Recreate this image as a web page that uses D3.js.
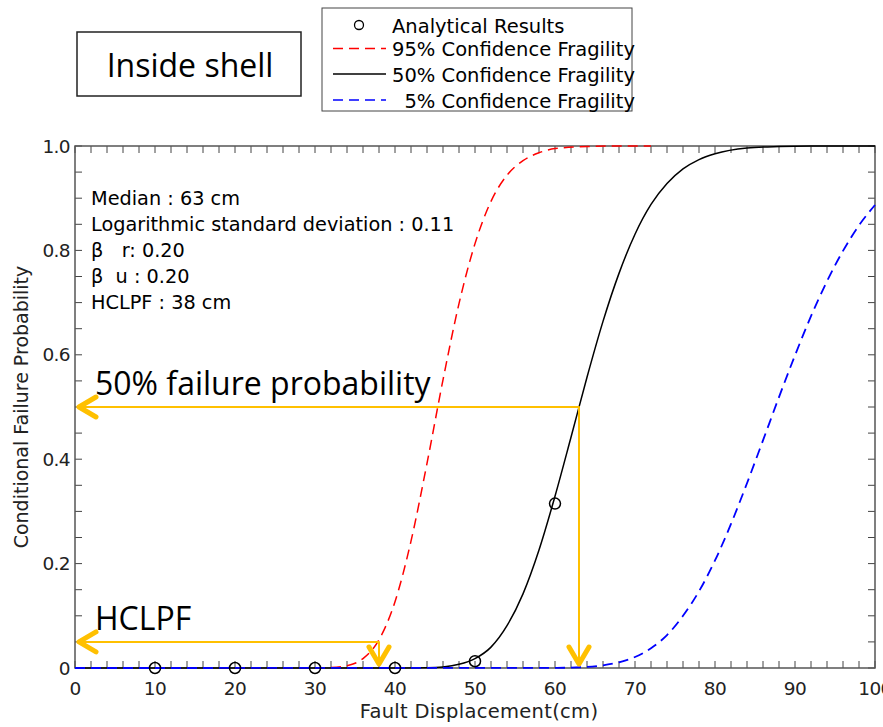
<!DOCTYPE html>
<html>
<head>
<meta charset="utf-8">
<script src="https://cdn.jsdelivr.net/npm/d3@7"></script>
<style>
  body { margin: 0; background: #fff; }
  svg { display: block; }
  text { white-space: pre; }
</style>
</head>
<body>
<div id="vizcontainer"></div>
<script>
const
  width = 883,
  height = 727,
  margin = { left: 75, right: 6, top: 146, bottom: 59 }
  ;

// curves (displacement in cm, probability)
const redX = [0, 30, 32, 34, 36, 38, 40, 42, 44, 46, 48, 50, 52, 54, 56, 58, 60, 64, 68, 72];
const redY = [0, 0.0001, 0.0008, 0.0044, 0.018, 0.054, 0.127, 0.243, 0.392, 0.552, 0.698, 0.813, 0.894, 0.944, 0.972, 0.987, 0.995, 0.999, 1.0, 1.0];

const blackX = [0, 40, 44, 46, 48, 50, 52, 54, 56, 58, 60, 62, 64, 66, 68, 70, 72, 74, 76, 78, 80, 84, 88, 92, 100];
const blackY = [0, 0, 0.0005, 0.002, 0.007, 0.018, 0.040, 0.081, 0.142, 0.226, 0.329, 0.442, 0.557, 0.664, 0.756, 0.831, 0.888, 0.928, 0.956, 0.974, 0.985, 0.996, 0.999, 1.0, 1.0];

const blueX = [0, 60, 64, 66, 68, 70, 72, 74, 76, 78, 80, 82, 84, 86, 88, 90, 92, 94, 96, 98, 100];
const blueY = [0, 0.0003, 0.002, 0.005, 0.011, 0.021, 0.038, 0.063, 0.100, 0.147, 0.206, 0.276, 0.354, 0.436, 0.519, 0.599, 0.674, 0.741, 0.799, 0.848, 0.887];

const pointX = [10, 20, 30, 40, 50, 60];
const pointY = [0, 0, 0, 0, 0.013, 0.315];

const xTicks = [0, 10, 20, 30, 40, 50, 60, 70, 80, 90, 100];
const yTicks = [0, 0.2, 0.4, 0.6, 0.8, 1.0];
const yTickLabels = ['0', '0.2', '0.4', '0.6', '0.8', '1.0'];

const legendLabels = ['Analytical Results', '95% Confidence Fragility', '50% Confidence Fragility', '  5% Confidence Fragility'];
const infoLines = ['Median : 63 cm', 'Logarithmic standard deviation : 0.11', '\u03b2   r: 0.20', '\u03b2  u : 0.20', 'HCLPF : 38 cm'];

// annotation arrows: [displacement, probability, label]
const guideX = [63, 38];
const guideP = [0.5, 0.05];
const guideLabels = ['50% failure probability', 'HCLPF'];

const tickFont = '"DejaVu Sans", sans-serif';
const bigFont = '"Open Sans", Lato, sans-serif';
const yellow = '#ffc000';

let xScale = d3.scaleLinear()
  .domain([0, 100])
  .range([margin.left, width - margin.right - 2]);

let yScale = d3.scaleLinear()
  .domain([0, 1])
  .range([height - margin.bottom, margin.top]);

let viz = d3.select('#vizcontainer')
  .append('svg')
  .attr('width', width)
  .attr('height', height)
  .style('font-family', tickFont);

const x0 = xScale(0), x1 = xScale(100), y0 = yScale(0), y1 = yScale(1);

// inward ticks on all four sides
const minorX = d3.range(0, 101, 2);
const minorY = d3.range(0, 1.001, 0.05);
let ticks = viz.append('g').attr('stroke', '#444').attr('stroke-width', 1);
ticks.selectAll('.tb').data(minorX).join('line')
  .attr('x1', d => xScale(d)).attr('x2', d => xScale(d))
  .attr('y1', y0).attr('y2', y0 - 7);
ticks.selectAll('.tt').data(minorX).join('line')
  .attr('x1', d => xScale(d)).attr('x2', d => xScale(d))
  .attr('y1', y1).attr('y2', y1 + 7);
ticks.selectAll('.tl').data(minorY).join('line')
  .attr('x1', x0).attr('x2', x0 + 7)
  .attr('y1', d => yScale(d)).attr('y2', d => yScale(d));
ticks.selectAll('.tr').data(minorY).join('line')
  .attr('x1', x1).attr('x2', x1 - 7)
  .attr('y1', d => yScale(d)).attr('y2', d => yScale(d));

viz.append('rect')
  .attr('x', x0).attr('y', y1)
  .attr('width', x1 - x0).attr('height', y0 - y1)
  .attr('fill', 'none').attr('stroke', '#555').attr('stroke-width', 1.5);

// tick labels
viz.append('g').selectAll('text').data(xTicks).join('text')
  .attr('x', d => xScale(d)).attr('y', y0 + 27)
  .attr('text-anchor', 'middle')
  .attr('font-size', 18.5).attr('letter-spacing', -0.6).attr('fill', '#222')
  .text(d => d);
viz.append('g').selectAll('text').data(yTicks).join('text')
  .attr('x', x0 - 5).attr('y', d => yScale(d) + 6.5)
  .attr('text-anchor', 'end')
  .attr('font-size', 18.5).attr('letter-spacing', -0.6).attr('fill', '#222')
  .text((d, i) => yTickLabels[i]);

viz.append('text')
  .attr('x', (x0 + x1) / 2 + 4).attr('y', 718)
  .attr('text-anchor', 'middle').attr('font-size', 19.5).attr('letter-spacing', 0.3).attr('fill', '#222')
  .text('Fault Displacement(cm)');
viz.append('text')
  .attr('transform', `translate(28, ${(y0 + y1) / 2}) rotate(-90)`)
  .attr('text-anchor', 'middle').attr('font-size', 19).attr('letter-spacing', 0).attr('fill', '#222')
  .text('Conditional Failure Probability');

// fragility curves
const line = d3.line()
  .x(d => xScale(d[0]))
  .y(d => yScale(d[1]))
  .curve(d3.curveMonotoneX);

viz.append('path').datum(d3.zip(redX, redY))
  .attr('d', line).attr('fill', 'none')
  .attr('stroke', '#ff0000').attr('stroke-width', 1.5).attr('stroke-dasharray', '10,6');
viz.append('path').datum(d3.zip(blackX, blackY))
  .attr('d', line).attr('fill', 'none')
  .attr('stroke', '#000').attr('stroke-width', 1.5);
viz.append('path').datum(d3.zip(blueX, blueY))
  .attr('d', line).attr('fill', 'none')
  .attr('stroke', '#0000ff').attr('stroke-width', 1.8).attr('stroke-dasharray', '10,6');

viz.append('g').selectAll('circle').data(d3.zip(pointX, pointY)).join('circle')
  .attr('cx', d => xScale(d[0])).attr('cy', d => yScale(d[1]))
  .attr('r', 5.5).attr('fill', 'none').attr('stroke', '#000').attr('stroke-width', 1.5);

// info text
viz.append('g').selectAll('text').data(infoLines).join('text')
  .attr('x', 91).attr('y', (d, i) => 205 + i * 26)
  .attr('font-size', 19.3).attr('fill', '#000')
  .text(d => d);

// yellow guide arrows
let guides = viz.append('g')
  .attr('stroke', yellow).attr('fill', 'none')
  .attr('stroke-linecap', 'round').attr('stroke-linejoin', 'round');
guideX.forEach((gx, i) => {
  const px = xScale(gx), py = yScale(guideP[i]);
  guides.append('polyline')
    .attr('points', `${x0 + 2},${py} ${px},${py} ${px},${y0 - 2}`)
    .attr('stroke-width', 2).attr('stroke-linecap', 'butt');
  guides.append('polyline')
    .attr('points', `${x0 + 21},${py - 10} ${x0 + 4},${py} ${x0 + 21},${py + 10}`)
    .attr('stroke-width', 5);
  guides.append('polyline')
    .attr('points', `${px - 10},${y0 - 21} ${px},${y0 - 4} ${px + 10},${y0 - 21}`)
    .attr('stroke-width', 5);
  viz.append('text')
    .attr('x', 95).attr('y', py - 12)
    .attr('font-family', bigFont).attr('font-size', 32).attr('fill', '#000')
    .text(guideLabels[i]);
});

// title box
viz.append('rect')
  .attr('x', 77).attr('y', 32).attr('width', 224).attr('height', 64)
  .attr('fill', '#fff').attr('stroke', '#222').attr('stroke-width', 1.5);
viz.append('text')
  .attr('x', 190).attr('y', 77)
  .attr('text-anchor', 'middle').attr('font-family', bigFont).attr('font-size', 32).attr('fill', '#000')
  .text('Inside shell');

// legend
viz.append('rect')
  .attr('x', 322).attr('y', 8).attr('width', 310).attr('height', 103)
  .attr('fill', '#fff').attr('stroke', '#444').attr('stroke-width', 1);
const legY = [25, 48.5, 74, 100];
const legStroke = [null, '#ff0000', '#000', '#0000ff'];
const legDash = [null, '10,6', null, '10,6'];
let leg = viz.append('g');
leg.append('circle').attr('cx', 359).attr('cy', legY[0]).attr('r', 4.5)
  .attr('fill', 'none').attr('stroke', '#000').attr('stroke-width', 1.3);
[1, 2, 3].forEach(i => {
  leg.append('line')
    .attr('x1', 333).attr('x2', 386).attr('y1', legY[i]).attr('y2', legY[i])
    .attr('stroke', legStroke[i]).attr('stroke-width', 1.5)
    .attr('stroke-dasharray', legDash[i]);
});
leg.selectAll('text').data(legendLabels).join('text')
  .attr('x', 392).attr('y', (d, i) => legY[i] + 7.5)
  .attr('font-size', 19.5).attr('fill', '#000')
  .text(d => d);
</script>
</body>
</html>
